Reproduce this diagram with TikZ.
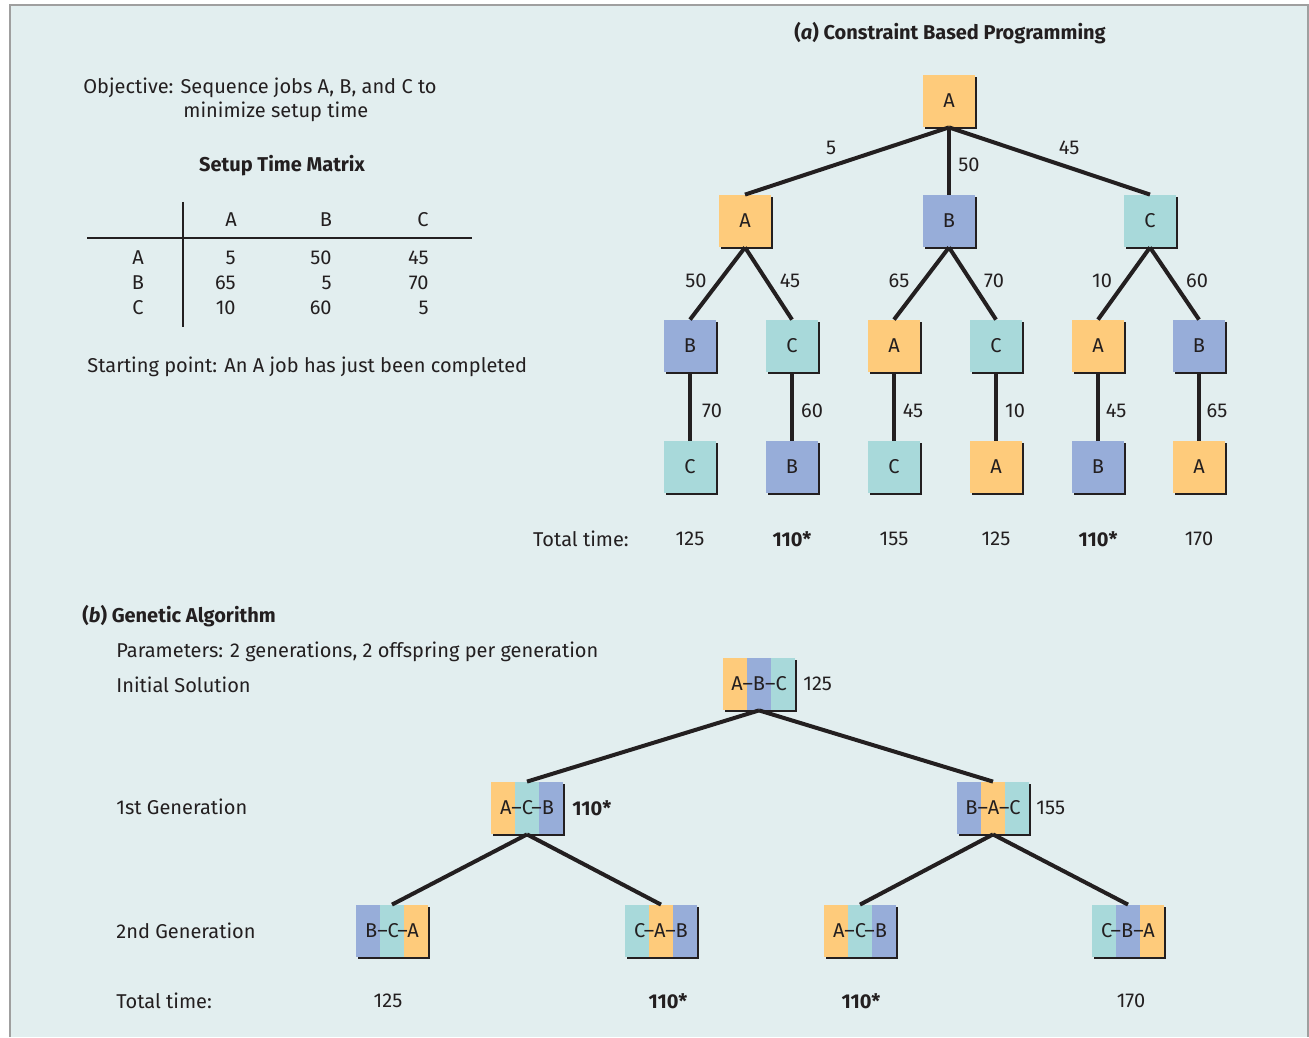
\documentclass[tikz,border=0pt]{standalone}
\usepackage{fontspec}
\setmainfont{Fira Sans}
\usetikzlibrary{calc,shadows}

\definecolor{jobA}{HTML}{FECB7B}
\definecolor{jobB}{HTML}{97ADD9}
\definecolor{jobC}{HTML}{A8D9DA}
\definecolor{panel}{HTML}{E2EEEF}
\definecolor{ink}{HTML}{231F20}

\tikzset{
  job/.style={minimum size=26pt, inner sep=0pt,
    drop shadow={shadow xshift=1.1pt, shadow yshift=-1.1pt, fill=ink, opacity=1}},
  jA/.style={job, fill=jobA}, jB/.style={job, fill=jobB}, jC/.style={job, fill=jobC},
  seq/.style n args={3}{job, minimum width=36pt, minimum height=26pt,
    path picture={
      \coordinate (nw) at (path picture bounding box.north west);
      \coordinate (sw) at (path picture bounding box.south west);
      \coordinate (ne) at (path picture bounding box.north east);
      \coordinate (se) at (path picture bounding box.south east);
      \fill[#1] (nw) rectangle ($(sw)!1/3!(se)$);
      \fill[#2] ($(nw)!1/3!(ne)$) rectangle ($(sw)!2/3!(se)$);
      \fill[#3] ($(nw)!2/3!(ne)$) rectangle (se);}},
  link/.style={draw=ink, line width=2pt},
  rule/.style={draw=ink, line width=0.6pt},
  txt/.style={anchor=west, inner sep=0pt},
  num/.style={anchor=east, inner sep=0pt},
  best/.style={font=\bfseries}
}

\begin{document}
\begin{tikzpicture}[x=0.5pt, y=-0.5pt, font=\fontsize{10}{12}\selectfont, text=ink]
\useasboundingbox (0,0) rectangle (1309,1037);
\fill[white] (0,0) rectangle (1309,1037);
\fill[panel] (10,5) rectangle (1308,1037);
\draw[gray!75, line width=1pt] (10,1037) -- (10,5) -- (1308,5) -- (1308,1037);

% objective and setup matrix
\node[txt] (obj) at (83,88) {Objective: Sequence jobs A, B, and C to};
\node[txt] (obj2) at (183,112) {minimize setup time};
\node[best] (mtitle) at (282,166) {Setup Time Matrix};
\draw[rule] (183,202) -- (183,327);
\draw[rule] (87,238) -- (472,238);
\node (hA) at (231,220) {A};
\node (hB) at (326,220) {B};
\node (hC) at (423,220) {C};
\foreach \r/\y/\u/\v/\w in {A/258/5/50/45, B/283/65/5/70, C/308/10/60/5} {
  \node (row\r) at (138,\y) {\r};
  \node[num] (m\r1) at (236,\y) {\u};
  \node[num] (m\r2) at (332,\y) {\v};
  \node[num] (m\r3) at (429,\y) {\w};
}
\node[txt] (start) at (87,367) {Starting point: An A job has just been completed};

% (a) search tree
\node[best] (ta) at (950,33) {(\textit{a}) Constraint Based Programming};
\node[jA] (r) at (949,101) {A};
\node[jA] (a) at (745,221) {A};
\node[jB] (b) at (949,221) {B};
\node[jC] (c) at (1150,221) {C};
\node[jB] (ab) at (690,346) {B};
\node[jC] (ac) at (792,346) {C};
\node[jA] (ba) at (894,346) {A};
\node[jC] (bc) at (996,346) {C};
\node[jA] (ca) at (1098,346) {A};
\node[jB] (cb) at (1199,346) {B};
\node[jC] (abc) at (690,467) {C};
\node[jB] (acb) at (792,467) {B};
\node[jC] (bac) at (894,467) {C};
\node[jA] (bca) at (996,467) {A};
\node[jB] (cab) at (1098,467) {B};
\node[jA] (cba) at (1199,467) {A};
\foreach \p/\c in {r/a,r/b,r/c,a/ab,a/ac,b/ba,b/bc,c/ca,c/cb,
                   ab/abc,ac/acb,ba/bac,bc/bca,ca/cab,cb/cba}
  \draw[link] (\p.south) -- (\c.north);

\foreach \n/\x/\y/\t in {1/831/148/5, 2/969/165/50, 3/1069/148/45,
    4/696/281/50, 5/790/281/45, 6/899/281/65, 7/994/281/70, 8/1102/281/10, 9/1197/281/60,
    10/712/411/70, 11/812/411/60, 12/913/411/45, 13/1015/411/10, 14/1116/411/45, 15/1217/411/65}
  \node (w\n) at (\x,\y) {\t};

\node (tta) at (581,539) {Total time:};
\node (s1) at (690,539) {125};
\node[best] (s2) at (792,539) {110*};
\node (s3) at (894,539) {155};
\node (s4) at (996,539) {125};
\node[best] (s5) at (1098,539) {110*};
\node (s6) at (1199,539) {170};

% (b) genetic algorithm
\node[txt, best] (tb) at (82,616) {(\textit{b}) Genetic Algorithm};
\node[txt] (par) at (116,652) {Parameters: 2 generations, 2 offspring per generation};
\node[txt] (init) at (116,685) {Initial Solution};
\node[txt] (gen1) at (116,807) {1st Generation};
\node[txt] (gen2) at (116,931) {2nd Generation};
\node[txt] (ttb) at (116,1001) {Total time:};

\node[seq={jobA}{jobB}{jobC}] (g0) at (759,684) {A–B–C};
\node[seq={jobA}{jobC}{jobB}] (g1) at (527,808) {A–C–B};
\node[seq={jobB}{jobA}{jobC}] (g2) at (993,808) {B–A–C};
\node[seq={jobB}{jobC}{jobA}] (g11) at (392,931) {B–C–A};
\node[seq={jobC}{jobA}{jobB}] (g12) at (661,931) {C–A–B};
\node[seq={jobA}{jobC}{jobB}] (g21) at (860,931) {A–C–B};
\node[seq={jobC}{jobB}{jobA}] (g22) at (1128,931) {C–B–A};
\foreach \p/\c in {g0/g1,g0/g2,g1/g11,g1/g12,g2/g21,g2/g22}
  \draw[link] (\p.south) -- (\c.north);

\node[txt] (c0) at (803,684) {125};
\node[txt, best] (c1) at (572,808) {110*};
\node[txt] (c2) at (1036,808) {155};
\node (f1) at (388,1001) {125};
\node[best] (f2) at (668,1001) {110*};
\node[best] (f3) at (861,1001) {110*};
\node (f4) at (1131,1001) {170};
\end{tikzpicture}
\end{document}
